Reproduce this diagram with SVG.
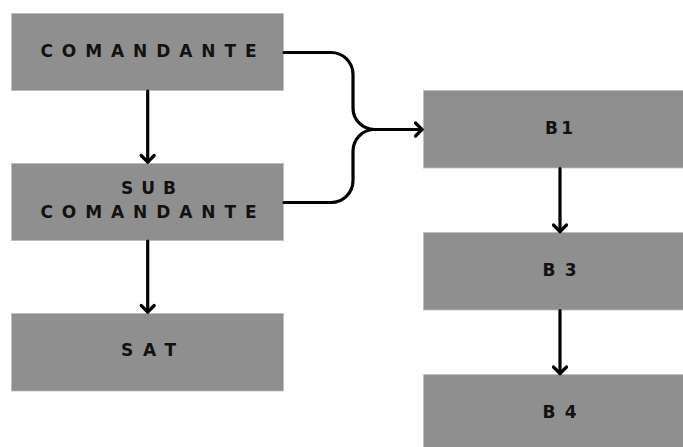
<svg xmlns="http://www.w3.org/2000/svg" width="683" height="447" viewBox="0 0 683 447">
<style>
.box{fill:#8f8f8f;stroke:#bdbdbd;stroke-width:0.8}
.lbl{font-family:"DejaVu Sans","Open Sans",sans-serif;font-weight:bold;font-size:17px;fill:#141210}
.con{fill:none;stroke:#000;stroke-width:3.2;stroke-linecap:round;stroke-linejoin:round}
</style>
<defs>
<marker id="ah" markerUnits="userSpaceOnUse" viewBox="-10 -10 20 20" markerWidth="20" markerHeight="20" refX="0" refY="0" orient="auto" overflow="visible">
<path d="M-6.5,-6.5 L0,0 L-6.5,6.5" fill="none" stroke="#000" stroke-width="3.2" stroke-linecap="round" stroke-linejoin="round"/>
</marker>
</defs>
<g id="comandante"><rect class="box" x="11.5" y="13.5" width="272" height="77"/><text class="lbl" x="40.5" y="57" textLength="216" lengthAdjust="spacing">COMANDANTE</text></g>
<g id="subcomandante"><rect class="box" x="11.5" y="163.5" width="272" height="77"/><text class="lbl" x="121" y="194" textLength="55" lengthAdjust="spacing">SUB</text><text class="lbl" x="40.5" y="218" textLength="216" lengthAdjust="spacing">COMANDANTE</text></g>
<g id="sat"><rect class="box" x="11.5" y="313.5" width="272" height="77.5"/><text class="lbl" x="121" y="356" textLength="55" lengthAdjust="spacing">SAT</text></g>
<g id="b1"><rect class="box" x="423.5" y="90.5" width="274" height="77.5"/><text class="lbl" x="545" y="134" textLength="28" lengthAdjust="spacing">B1</text></g>
<g id="b3"><rect class="box" x="423.5" y="232.5" width="274" height="77.5"/><text class="lbl" x="542.5" y="276" textLength="34" lengthAdjust="spacing">B3</text></g>
<g id="b4"><rect class="box" x="423.5" y="374.5" width="274" height="80"/><text class="lbl" x="542.5" y="418" textLength="34" lengthAdjust="spacing">B4</text></g>
<g id="connectors">
<path class="con" d="M147.7,91 V162" marker-end="url(#ah)"/>
<path class="con" d="M147.7,241 V312" marker-end="url(#ah)"/>
<path class="con" d="M560,168.5 V231.5" marker-end="url(#ah)"/>
<path class="con" d="M560,310.5 V373.5" marker-end="url(#ah)"/>
<path class="con" d="M284,52.5 H331 A22,22 0 0 1 353,74.5 V108 A21.5,21.5 0 0 0 374.5,129.5 H422" marker-end="url(#ah)"/>
<path class="con" d="M284,202.5 H331 A22,22 0 0 0 353,180.5 V151 A21.5,21.5 0 0 1 374.5,129.5"/>
</g>
</svg>
